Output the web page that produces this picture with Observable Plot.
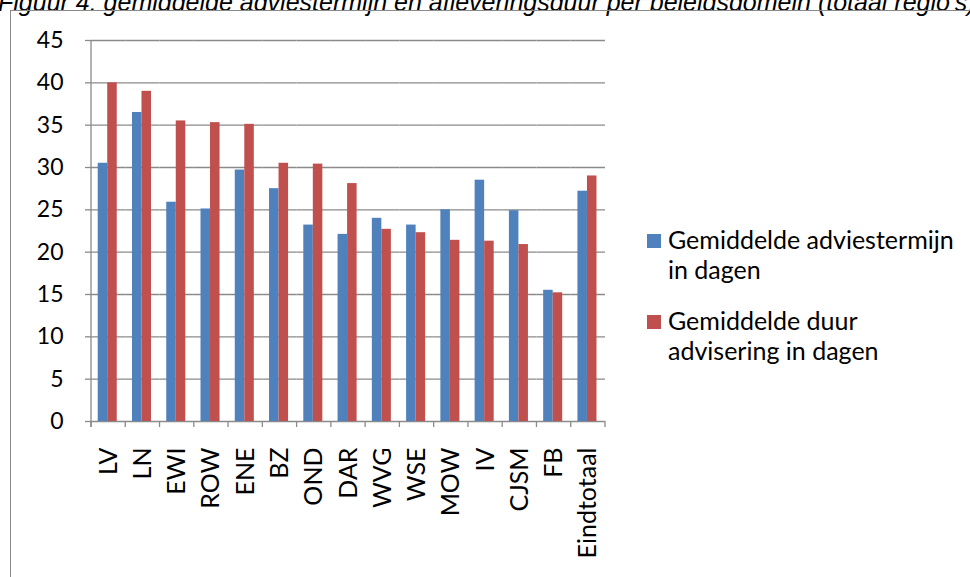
<!DOCTYPE html>
<html>
<head>
<meta charset="utf-8">
<script src="https://cdn.jsdelivr.net/npm/d3@7"></script>
<script src="https://cdn.jsdelivr.net/npm/@observablehq/plot@0.6"></script>
<style>
  html, body { margin: 0; padding: 0; background: #fff; }
  #wrap { position: relative; width: 970px; height: 577px; overflow: hidden; background: #fff; }
  #title { position: absolute; left: -2px; top: -11px; white-space: nowrap;
           font: italic 25px "Liberation Sans", Arial, sans-serif; line-height: 26px; color: #000; }
  #frame { position: absolute; left: 10px; top: 10px; width: 1000px; height: 620px;
           border: 1.5px solid #8a8a8a; box-sizing: border-box; }
  #chart { position: absolute; left: 0; top: 0; }
  #legend { position: absolute; left: 647px; top: 224px; font-family: Lato, sans-serif; font-size: 25px; color: #000; }
  #legend .item { display: flex; align-items: flex-start; margin-bottom: 21px; }
  #legend .sw { flex: none; width: 14px; height: 14px; margin-top: 10px; margin-right: 7px; }
  #legend .lbl { white-space: pre-line; line-height: 30px; }
</style>
</head>
<body>
<div id="wrap">
  <div id="title"></div>
  <div id="frame"></div>
  <div id="chart"></div>
  <div id="legend"></div>
</div>
<script>
const titleText = "Figuur 4: gemiddelde adviestermijn en afleveringsduur per beleidsdomein (totaal regio's)";
const categories = ["LV","LN","EWI","ROW","ENE","BZ","OND","DAR","WVG","WSE","MOW","IV","CJSM","FB","Eindtotaal"];
const adviestermijn = [30.5, 36.5, 25.9, 25.1, 29.7, 27.5, 23.2, 22.1, 24.0, 23.2, 25.0, 28.5, 24.9, 15.5, 27.2];
const duurAdvisering = [40.0, 39.0, 35.5, 35.3, 35.1, 30.5, 30.4, 28.1, 22.7, 22.3, 21.4, 21.3, 20.9, 15.2, 29.0];
const seriesNames = ["Gemiddelde adviestermijn in dagen", "Gemiddelde duur advisering in dagen"];
const legendLabels = ["Gemiddelde adviestermijn\nin dagen", "Gemiddelde duur\nadvisering in dagen"];
const seriesColors = ["#4F81BD", "#C0504D"];
const yTicks = [0, 5, 10, 15, 20, 25, 30, 35, 40, 45];

document.getElementById("title").textContent = titleText;

const data = categories.flatMap((c, i) => [
  {cat: c, series: seriesNames[0], value: adviestermijn[i]},
  {cat: c, series: seriesNames[1], value: duurAdvisering[i]}
]);

const gridColor = "#8a8a8a";
const font = "Lato, sans-serif";

const plot = Plot.plot({
  width: 970,
  height: 577,
  marginLeft: 91,
  marginRight: 365,
  marginTop: 40,
  marginBottom: 156,
  style: {fontFamily: font, fontSize: "22px", color: "#000", background: "transparent"},
  fx: {domain: categories, padding: 0, round: false, label: null},
  x: {domain: seriesNames, paddingInner: 0, paddingOuter: 0.8, align: 0.44, round: false, axis: null},
  y: {domain: [0, 45], label: null},
  color: {domain: seriesNames, range: seriesColors},
  marks: [
    Plot.gridY(yTicks, {stroke: gridColor, strokeOpacity: 1, strokeWidth: 1.3}),
    Plot.barY(data, {fx: "cat", x: "series", y: "value", fill: "series"}),
    Plot.axisY(yTicks, {tickSize: 6, tickPadding: 22, stroke: gridColor, strokeWidth: 1.3, fill: "#000", fontSize: 23, fontFamily: font, label: null}),
    Plot.axisFx({anchor: "bottom", tickSize: 0, tickPadding: 26, tickRotate: -90, fill: "#000", fontSize: 25, fontFamily: font, label: null})
  ]
});

// axis lines and category boundary ticks, positioned with the plot's own scales
const fxS = plot.scale("fx");
const yS = plot.scale("y");
const y0 = yS.apply(0);
const yTop = yS.apply(45);
const starts = categories.map(c => fxS.apply(c));
const boundaries = starts.concat([starts[starts.length - 1] + fxS.bandwidth]);
const g = d3.select(plot).append("g").attr("stroke", gridColor).attr("stroke-width", 1.3);
g.append("line").attr("x1", starts[0]).attr("x2", starts[0]).attr("y1", yTop).attr("y2", y0 + 6);
g.selectAll("line.bt").data(boundaries).join("line").attr("class", "bt")
  .attr("x1", d => d).attr("x2", d => d).attr("y1", y0).attr("y2", y0 + 6);

document.getElementById("chart").appendChild(plot);

// legend
const legend = d3.select("#legend");
legendLabels.forEach((lbl, i) => {
  const item = legend.append("div").attr("class", "item");
  item.append("span").attr("class", "sw").style("background", seriesColors[i]);
  item.append("span").attr("class", "lbl").text(lbl);
});
</script>
</body>
</html>
